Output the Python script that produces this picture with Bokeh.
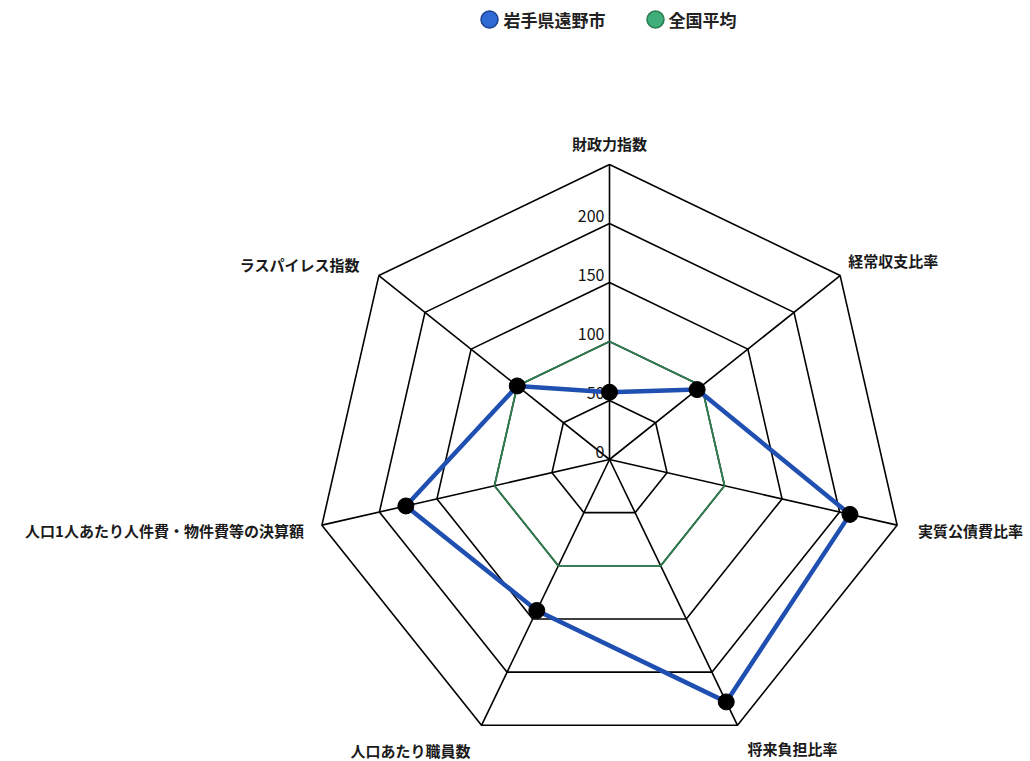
import math
from bokeh.plotting import figure
from bokeh.models import Range1d
from bokeh.core.properties import value
from bokeh.embed import file_html
from bokeh.resources import INLINE

# ---- data ----
categories = ["財政力指数", "経常収支比率", "実質公債費比率", "将来負担比率",
              "人口あたり職員数", "人口1人あたり人件費・物件費等の決算額", "ラスパイレス指数"]
city_name = "岩手県遠野市"
city_values = [57, 95, 209, 228, 142, 177, 100]
avg_name = "全国平均"
avg_values = [100, 100, 100, 100, 100, 100, 100]
ring_values = [50, 100, 150, 200, 250]
tick_labels = ["0", "50", "100", "150", "200"]
tick_values = [0, 50, 100, 150, 200]
r_max = 250

FONT = "Noto Sans CJK JP"

# ---- layout (screen px) ----
W, H = 1030, 761
cx, cy = 609, 459          # centre in page px
k = 295.0 / r_max          # px per unit

def sx(px):
    return (px - cx) / k

def sy(py):
    return (cy - py) / k

p = figure(width=W, height=H, output_backend="svg", toolbar_location=None,
           x_axis_type=None, y_axis_type=None,
           x_range=Range1d(sx(0), sx(W)), y_range=Range1d(sy(H), sy(0)),
           min_border=0, min_border_left=0, min_border_right=0,
           min_border_top=0, min_border_bottom=0)
p.outline_line_color = None
p.xgrid.visible = False
p.ygrid.visible = False
p.background_fill_color = "white"
p.border_fill_color = "white"

n = len(categories)
angles = [math.pi / 2 - 2 * math.pi * i / n for i in range(n)]

def poly(vals):
    xs = [v * math.cos(a) for v, a in zip(vals, angles)]
    ys = [v * math.sin(a) for v, a in zip(vals, angles)]
    return xs, ys

# rings
for r in ring_values:
    xs, ys = poly([r] * n)
    p.line(xs + xs[:1], ys + ys[:1], line_color="black", line_width=1.6)

# spokes
for a in angles:
    p.line([0, r_max * math.cos(a)], [0, r_max * math.sin(a)],
           line_color="black", line_width=1.6)

# tick labels on the top axis
p.text(x=[0] * len(tick_values), y=tick_values, text=tick_labels,
       x_offset=-5, y_offset=-8, text_align="right", text_baseline="middle",
       text_font=value(FONT), text_font_size="16px", text_color="#111111")

# national average
ax, ay = poly(avg_values)
p.line(ax + ax[:1], ay + ay[:1], line_color="#2e7d4f", line_width=1.8)

# city
bx, by = poly(city_values)
p.line(bx + bx[:1], by + by[:1], line_color="#1f4fb0", line_width=4.5)
p.scatter(bx, by, size=16, fill_color="black", line_color="black")

# category labels
offsets = [(0, -21, "center"), (8, -15, "left"), (21, 5, "left"), (10, 23, "left"),
           (-11, 25, "right"), (-18, 5, "right"), (-19, -11, "right")]
vx, vy = poly([r_max] * n)
for i, name in enumerate(categories):
    dx, dy, al = offsets[i]
    p.text(x=[vx[i]], y=[vy[i]], text=[name], x_offset=dx, y_offset=dy,
           text_align=al, text_baseline="middle",
           text_font=value(FONT), text_font_size="15px", text_font_style="bold",
           text_color="#1a1a1a")

# legend (manual, at top)
p.scatter([sx(489)], [sy(19)], size=17, fill_color="#2f6ad4", line_color="#1a3f8f", line_width=1.5)
p.text(x=[sx(503)], y=[sy(19)], text=[city_name], text_align="left", text_baseline="middle",
       text_font=value(FONT), text_font_size="17px", text_font_style="bold", text_color="#222222")
p.scatter([sx(655)], [sy(19)], size=17, fill_color="#3fae78", line_color="#2a7a50", line_width=1.5)
p.text(x=[sx(668)], y=[sy(19)], text=[avg_name], text_align="left", text_baseline="middle",
       text_font=value(FONT), text_font_size="17px", text_font_style="bold", text_color="#222222")

open("out.html", "w").write(file_html(p, INLINE))
